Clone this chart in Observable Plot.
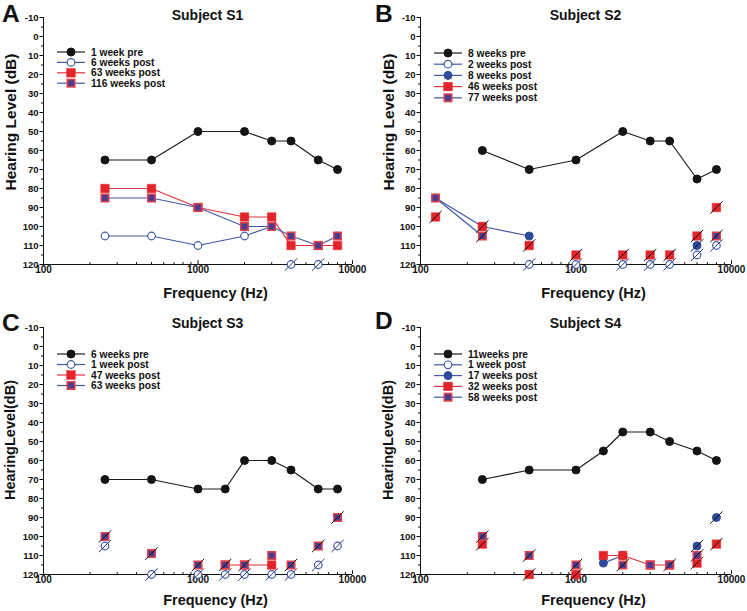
<!DOCTYPE html>
<html><head><meta charset="utf-8">
<script src="https://cdn.jsdelivr.net/npm/d3@7"></script>
<script src="https://cdn.jsdelivr.net/npm/@observablehq/plot@0.6"></script>
<style>
body{margin:0;background:#fff;}
#grid{width:747px;height:611px;position:relative;overflow:hidden;}
.panel{position:absolute;}
.panel svg{overflow:visible;display:block;}
</style></head><body><div id="grid"></div>
<script>
// ---- axis ticks ----
const yMajor = [-10, 0, 10, 20, 30, 40, 50, 60, 70, 80, 90, 100, 110, 120];
const yMinor = [-5, 5, 15, 25, 35, 45, 55, 65, 75, 85, 95, 105, 115];
const xMajor = [100, 1000, 10000];
const xMinor = [200, 300, 400, 500, 600, 700, 800, 900, 2000, 3000, 4000, 5000, 6000, 7000, 8000, 9000];

// ---- Subject S1 ----  (nr flags: 0 response, 1 no response, 2 no response but joined)
const S1_freq = [250, 500, 1000, 2000, 3000, 4000, 6000, 8000];
const S1_pre1w = [65, 65, 50, 50, 55, 55, 65, 70];
const S1_post6w = [105, 105, 110, 105, 100, 120, 120, null];
const S1_post6w_nr = [0, 0, 0, 0, 0, 1, 1, 0];
const S1_post63w = [80, 80, 90, 95, 95, 110, 110, 110];
const S1_post116w = [85, 85, 90, 100, 100, 105, 110, 105];

// ---- Subject S2 ----
const S2_freq = [125, 250, 500, 1000, 2000, 3000, 4000, 6000, 8000];
const S2_pre8w = [null, 60, 70, 65, 50, 55, 55, 75, 70];
const S2_post2w = [null, null, 120, 120, 120, 120, 120, 115, 110];
const S2_post2w_nr = [1, 1, 1, 1, 1, 1, 1, 1, 1];
const S2_post8w = [85, 100, 105, null, null, null, null, 110, null];
const S2_post8w_nr = [0, 0, 0, 0, 0, 0, 0, 1, 0];
const S2_post46w = [95, 100, 110, 115, 115, 115, 115, 105, 90];
const S2_post46w_nr = [1, 1, 1, 1, 1, 1, 1, 1, 1];
const S2_post77w = [85, 105, null, null, null, null, null, null, 105];
const S2_post77w_nr = [0, 2, 0, 0, 0, 0, 0, 0, 1];

// ---- Subject S3 ----
const S3_freq = [250, 500, 1000, 1500, 2000, 3000, 4000, 6000, 8000];
const S3_pre6w = [70, 70, 75, 75, 60, 60, 65, 75, 75];
const S3_post1w = [105, 120, 120, 120, 120, 120, 120, 115, 105];
const S3_post1w_nr = [1, 1, 1, 1, 1, 1, 1, 1, 1];
const S3_post47w = [null, null, null, 115, 115, 115, null, null, null];
const S3_post63w = [100, 109, 115, 115, 115, 110, 115, 105, 90];
const S3_post63w_nr = [1, 1, 1, 1, 1, 0, 1, 1, 1];

// ---- Subject S4 ----
const S4_freq = [250, 500, 1000, 1500, 2000, 3000, 4000, 6000, 8000];
const S4_pre11w = [70, 65, 65, 55, 45, 45, 50, 55, 60];
const S4_post1w = [null, null, null, null, null, null, null, null, null];
const S4_post17w = [null, null, null, 114, 110, null, null, 105, 90];
const S4_post17w_nr = [0, 0, 0, 0, 0, 0, 0, 1, 1];
const S4_post32w = [104, 120, 120, 110, 110, 115, 115, 114, 104];
const S4_post32w_nr = [1, 1, 1, 0, 0, 0, 0, 1, 1];
const S4_post58w = [100, 110, 115, null, 115, 115, 115, 110, null];
const S4_post58w_nr = [1, 1, 1, 0, 1, 0, 1, 1, 0];

const FONT = "'Liberation Sans', Arial, Helvetica, sans-serif";
const BLUE = "#3f58a8";
const STY = {
  pre:    {line: "#1c1c1c", sym: "circle", r: 4,   fill: "#141414", stroke: "#141414", sw: 1, slash: "#111"},
  open:   {line: BLUE,      sym: "circle", r: 3.8, fill: "#ffffff", stroke: BLUE,      sw: 1.2, slash: "#27357a"},
  blue:   {line: BLUE,      sym: "circle", r: 4,   fill: "#2d4a9c", stroke: "#2d4a9c", sw: 1, slash: "#111"},
  red:    {line: "#e2313a", sym: "square", r: 4.8, fill: "#e3242b", stroke: "#e3242b", sw: 0.5, slash: "#111"},
  purple: {line: BLUE,      sym: "square", r: 4.2, fill: "#4a3d8f", stroke: "#e2404c", sw: 1.6, slash: "#111"}
};

const slashSymbol = {draw(ctx, size) { const r = Math.sqrt(size / Math.PI); ctx.moveTo(-r, r); ctx.lineTo(r, -r); }};

const panels = [
  {letter: "A", title: "Subject S1", left: 0, top: 0, width: 373, height: 300, ml: 43, mr: 21, mt: 17, mb: 36,
   ylabel: "Hearing Level (dB)", ylSize: 15.5, ylx: 11, yly: 122, letterY: 22, titleY: 20, xlabelY: 298,
   legendY: 52, legendStep: 10.4, freq: S1_freq,
   series: [
     {name: "1 week pre", style: "pre", y: S1_pre1w},
     {name: "6 weeks post", style: "open", y: S1_post6w, nr: S1_post6w_nr},
     {name: "63 weeks post", style: "red", y: S1_post63w},
     {name: "116 weeks post", style: "purple", y: S1_post116w}
   ]},
  {letter: "B", title: "Subject S2", left: 373, top: 0, width: 374, height: 300, ml: 47, mr: 16, mt: 17, mb: 36,
   ylabel: "Hearing Level (dB)", ylSize: 15.5, ylx: 16, yly: 122, letterY: 22, titleY: 20, xlabelY: 298,
   legendY: 53, legendStep: 11.2, freq: S2_freq,
   series: [
     {name: "8 weeks pre", style: "pre", y: S2_pre8w},
     {name: "2 weeks post", style: "open", y: S2_post2w, nr: S2_post2w_nr},
     {name: "8 weeks post", style: "blue", y: S2_post8w, nr: S2_post8w_nr},
     {name: "46 weeks post", style: "red", y: S2_post46w, nr: S2_post46w_nr},
     {name: "77 weeks post", style: "purple", y: S2_post77w, nr: S2_post77w_nr}
   ]},
  {letter: "C", title: "Subject S3", left: 0, top: 300, width: 373, height: 311, ml: 43, mr: 21, mt: 27, mb: 37,
   ylabel: "HearingLevel(dB)", ylSize: 14.5, ylx: 10, yly: 140, letterY: 31, titleY: 28, xlabelY: 305,
   legendY: 54, legendStep: 10.5, freq: S3_freq,
   series: [
     {name: "6 weeks pre", style: "pre", y: S3_pre6w},
     {name: "1 week post", style: "open", y: S3_post1w, nr: S3_post1w_nr},
     {name: "47 weeks post", style: "red", y: S3_post47w},
     {name: "63 weeks post", style: "purple", y: S3_post63w, nr: S3_post63w_nr}
   ]},
  {letter: "D", title: "Subject S4", left: 373, top: 300, width: 374, height: 311, ml: 47, mr: 16, mt: 27, mb: 37,
   ylabel: "HearingLevel(dB)", ylSize: 14.5, ylx: 15, yly: 140, letterY: 29, titleY: 28, xlabelY: 305,
   legendY: 54, legendStep: 10.8, freq: S4_freq,
   series: [
     {name: "11weeks pre", style: "pre", y: S4_pre11w},
     {name: "1 week post", style: "open", y: S4_post1w},
     {name: "17 weeks post", style: "blue", y: S4_post17w, nr: S4_post17w_nr},
     {name: "32 weeks post", style: "red", y: S4_post32w, nr: S4_post32w_nr},
     {name: "58 weeks post", style: "purple", y: S4_post58w, nr: S4_post58w_nr}
   ]}
];

function rowsOf(freq, ser) {
  return freq.map((f, i) => ({x: f, y: ser.y[i], nr: ser.nr ? ser.nr[i] : 0}));
}

function makePanel(p) {
  const lineMarks = [], dotMarks = [];
  for (const ser of p.series) {
    const st = STY[ser.style];
    const rows = rowsOf(p.freq, ser);
    lineMarks.push(Plot.line(rows, {x: "x", y: d => (d.y != null && d.nr !== 1) ? d.y : NaN,
      stroke: st.line, strokeWidth: 1.2}));
    const pts = rows.filter(d => d.y != null);
    dotMarks.push(Plot.dot(pts, {x: "x", y: "y", symbol: st.sym, r: st.r, fill: st.fill, stroke: st.stroke, strokeWidth: st.sw}));
    dotMarks.push(Plot.dot(pts.filter(d => d.nr > 0), {x: "x", y: "y", symbol: slashSymbol, r: 6.2,
      fill: "none", stroke: st.slash, strokeWidth: 1}));
  }
  const svg = Plot.plot({
    width: p.width, height: p.height,
    marginLeft: p.ml, marginRight: p.mr, marginTop: p.mt, marginBottom: p.mb,
    x: {type: "log", domain: [100, 10000]},
    y: {domain: [-10, 120], reverse: true},
    style: {fontFamily: FONT, fontWeight: "bold", color: "#111", background: "transparent", overflow: "visible"},
    marks: [
      Plot.axisY({ticks: yMinor, tickSize: 2, tickFormat: () => "", label: null}),
      Plot.axisY({ticks: yMajor, tickSize: 3.5, tickPadding: 1.5, tickFormat: d => String(d), fontSize: 9.5, fontWeight: "bold", label: null}),
      Plot.axisX({ticks: xMajor, tickSize: 0, tickPadding: 1, tickFormat: d => String(d), fontSize: 10, fontWeight: "bold", label: null}),
      Plot.ruleX(xMajor, {x: d => d, y1: 120, y2: 118, stroke: "#111"}),
      Plot.ruleX(xMinor, {x: d => d, y1: 120, y2: 119, stroke: "#111"}),
      Plot.ruleX([100], {stroke: "#111", strokeWidth: 1}),
      Plot.ruleY([120], {stroke: "#111", strokeWidth: 1}),
      ...lineMarks,
      ...dotMarks
    ]
  });
  const s = d3.select(svg);
  const fw = p.width - p.ml - p.mr;
  const t = (x, y, txt, size) => s.append("text").attr("x", x).attr("y", y).text(txt)
      .attr("text-anchor", "start")
      .attr("font-family", FONT).attr("font-weight", "bold").attr("font-size", size).attr("fill", "#111");
  t(2, p.letterY, p.letter, 24.5);
  t(p.ml + fw / 2 + 10, p.titleY, p.title, 14).attr("text-anchor", "middle");
  t(p.ml + fw / 2 + 18, p.xlabelY, "Frequency (Hz)", 14.5).attr("text-anchor", "middle");
  s.append("text").attr("transform", `translate(${p.ylx},${p.yly}) rotate(-90)`)
    .attr("text-anchor", "middle").attr("dy", "0.35em")
    .attr("font-family", FONT).attr("font-weight", "bold").attr("font-size", p.ylSize).attr("fill", "#111")
    .text(p.ylabel);
  // legend
  const g = s.append("g").attr("text-anchor", "start");
  p.series.forEach((ser, i) => {
    const st = STY[ser.style];
    const y = p.legendY + i * p.legendStep;
    const x0 = p.ml + 14;
    g.append("line").attr("x1", x0).attr("x2", x0 + 28).attr("y1", y).attr("y2", y)
      .attr("stroke", st.line).attr("stroke-width", 1.2);
    if (st.sym === "circle") {
      g.append("circle").attr("cx", x0 + 14).attr("cy", y).attr("r", st.r)
        .attr("fill", st.fill).attr("stroke", st.stroke).attr("stroke-width", st.sw);
    } else {
      const side = st.r * Math.sqrt(Math.PI);
      g.append("rect").attr("x", x0 + 14 - side / 2).attr("y", y - side / 2).attr("width", side).attr("height", side)
        .attr("fill", st.fill).attr("stroke", st.stroke).attr("stroke-width", st.sw);
    }
    g.append("text").attr("x", x0 + 34).attr("y", y).attr("dy", "0.36em").text(ser.name)
      .attr("text-anchor", "start")
      .attr("font-family", FONT).attr("font-weight", "bold").attr("font-size", 10.2).attr("fill", "#111");
  });
  const div = document.createElement("div");
  div.className = "panel";
  div.style.left = p.left + "px";
  div.style.top = p.top + "px";
  div.style.width = p.width + "px";
  div.style.height = p.height + "px";
  div.appendChild(svg);
  document.getElementById("grid").appendChild(div);
}

panels.forEach(makePanel);
</script>
</body></html>
